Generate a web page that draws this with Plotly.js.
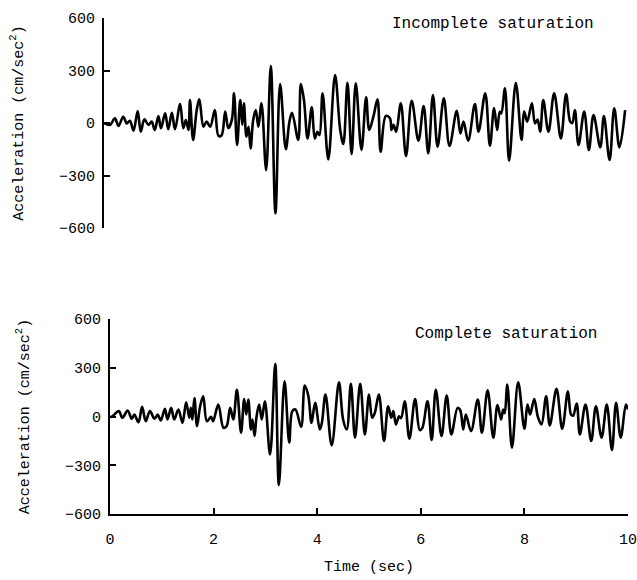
<!DOCTYPE html>
<html>
<head>
<meta charset="utf-8">
<script src="https://cdn.plot.ly/plotly-3.0.1.min.js"></script>
<style>html,body{margin:0;padding:0;background:#fff;}#chart{width:637px;height:580px;}</style>
</head>
<body>
<div id="chart"></div>
<script>
// Incomplete saturation (top panel): time (sec), acceleration (cm/sec^2)
var timeIncomplete = [0.00,0.04,0.12,0.21,0.28,0.37,0.44,0.50,0.57,0.65,0.71,0.78,0.86,0.92,0.98,1.05,1.10,1.18,1.24,1.31,1.37,1.47,1.53,1.58,1.63,1.66,1.72,1.79,1.84,1.92,1.98,2.05,2.14,2.21,2.27,2.34,2.40,2.47,2.51,2.57,2.63,2.67,2.70,2.75,2.79,2.83,2.88,2.93,2.98,3.04,3.13,3.22,3.31,3.40,3.51,3.58,3.63,3.75,3.80,3.86,3.93,4.01,4.07,4.12,4.16,4.22,4.33,4.46,4.56,4.62,4.70,4.78,4.86,4.97,5.06,5.12,5.20,5.28,5.34,5.44,5.52,5.55,5.59,5.64,5.73,5.83,5.94,6.07,6.17,6.26,6.35,6.44,6.56,6.67,6.81,6.88,6.94,7.03,7.16,7.23,7.36,7.45,7.53,7.59,7.64,7.67,7.74,7.82,7.95,8.06,8.11,8.17,8.26,8.32,8.37,8.42,8.48,8.58,8.69,8.82,8.92,9.00,9.04,9.09,9.16,9.27,9.36,9.45,9.58,9.65,9.76,9.85,9.95,10.06];
var accIncomplete = [0,-6,-10,27,-17,36,-2,13,-44,69,-50,21,-11,8,-40,40,-30,55,-36,59,-36,109,-30,17,-40,131,-97,74,135,-21,8,-21,74,-74,-70,65,-30,21,170,-126,131,-11,112,-78,-21,-145,17,74,-21,112,-269,326,-516,223,-150,8,59,-97,223,131,-88,90,-88,-50,-69,170,-208,274,-40,-120,230,-177,227,-154,147,-40,36,135,-164,40,27,-40,-10,-50,112,-189,127,-101,97,-173,160,-135,141,-131,70,-60,8,-101,109,-50,170,-130,85,-40,65,55,198,-215,230,-97,65,8,112,-2,20,-50,131,-50,170,-88,166,8,0,74,-126,65,-154,46,-139,40,-211,84,-139,74];

// Complete saturation (bottom panel)
var timeComplete = [0.00,0.03,0.17,0.24,0.34,0.42,0.47,0.55,0.62,0.69,0.77,0.86,0.92,0.98,1.06,1.11,1.18,1.24,1.32,1.40,1.47,1.53,1.56,1.59,1.63,1.68,1.74,1.80,1.87,1.95,1.99,2.09,2.19,2.25,2.32,2.38,2.45,2.53,2.59,2.63,2.67,2.72,2.75,2.79,2.83,2.88,2.93,2.99,3.09,3.19,3.26,3.37,3.46,3.52,3.58,3.69,3.76,3.83,3.89,3.96,4.05,4.09,4.16,4.28,4.42,4.50,4.57,4.65,4.73,4.83,4.92,5.00,5.06,5.11,5.19,5.29,5.37,5.43,5.47,5.52,5.58,5.62,5.69,5.78,5.89,5.98,6.03,6.13,6.21,6.29,6.40,6.50,6.59,6.71,6.76,6.82,6.87,6.97,7.10,7.18,7.29,7.40,7.48,7.55,7.59,7.62,7.67,7.76,7.88,8.00,8.06,8.11,8.19,8.26,8.33,8.42,8.49,8.62,8.73,8.84,8.90,8.94,9.01,9.07,9.18,9.29,9.38,9.49,9.59,9.69,9.77,9.86,9.96,10.00];
var accComplete = [0,-2,33,-8,37,-14,12,-35,59,-29,33,-14,12,-24,47,-18,53,-18,43,-39,88,-8,53,-18,114,-59,63,124,-29,-2,-29,73,-69,-60,53,-18,165,-100,108,12,104,-80,-18,-120,2,73,-18,94,-233,324,-422,216,-161,33,43,-63,190,124,-39,84,-80,-40,135,-178,210,-18,-80,202,-130,202,-110,135,-8,20,135,-151,63,-8,33,-49,2,-10,94,-137,108,-84,-70,94,-145,165,-120,129,-110,53,40,-80,12,-90,104,-100,161,-130,70,-18,43,20,196,-192,210,-75,73,12,108,-2,-49,124,-55,170,-75,155,12,5,80,-110,73,-151,63,-130,73,-206,84,-130,73,43];

var xTickVals = [0, 2, 4, 6, 8, 10];
var xTickText = ['0', '2', '4', '6', '8', '10'];
var yTickVals = [-600, -300, 0, 300, 600];
var yTickText = ['\u2212600', '\u2212300', '0', '300', '600'];

var FONT = 'Liberation Mono, DejaVu Sans Mono, monospace';

var traces = [
  {x: timeComplete, y: accComplete, xaxis: 'x', yaxis: 'y', type: 'scatter', mode: 'lines',
   line: {color: '#000', width: 2.6, shape: 'spline', smoothing: 1}, hoverinfo: 'skip'},
  {x: timeIncomplete, y: accIncomplete, xaxis: 'x2', yaxis: 'y2', type: 'scatter', mode: 'lines',
   line: {color: '#000', width: 2.6, shape: 'spline', smoothing: 1}, hoverinfo: 'skip'}
];

var yCommon = {
  range: [-600, 600], tickvals: yTickVals, ticktext: yTickText,
  showline: true, linecolor: '#000', linewidth: 2,
  ticks: 'inside', ticklen: 6, tickwidth: 2, tickcolor: '#000',
  ticklabelstandoff: 4,
  showgrid: false, zeroline: false, fixedrange: true,
  tickfont: {family: FONT, size: 15, color: '#000'},
  title: {text: 'Acceleration (cm/sec<sup>2</sup>)', font: {family: FONT, size: 15, color: '#000'}, standoff: 32}
};

var layout = {
  width: 637, height: 580,
  margin: {l: 0, r: 0, t: 0, b: 0},
  paper_bgcolor: '#fff', plot_bgcolor: 'rgba(0,0,0,0)',
  showlegend: false,
  font: {family: FONT, color: '#000'},
  xaxis: {
    domain: [110/637, 628/637], range: [-0.0001, 10.0001], anchor: 'y',
    tickvals: xTickVals, ticktext: xTickText,
    showline: true, linecolor: '#000', linewidth: 2,
    ticks: 'inside', ticklen: 6, tickwidth: 2, tickcolor: '#000',
    ticklabelstandoff: 10,
    showgrid: false, zeroline: false, fixedrange: true,
    tickfont: {family: FONT, size: 15, color: '#000'},
    title: {text: 'Time (sec)', font: {family: FONT, size: 15, color: '#000'}, standoff: 12}
  },
  yaxis: Object.assign({}, yCommon, {domain: [66/580, 261/580], anchor: 'x'}),
  xaxis2: {
    domain: [104/637, 627.2/637], range: [0, 10.1], anchor: 'y2', visible: false, fixedrange: true
  },
  yaxis2: Object.assign({}, yCommon, {domain: [352/580, 562/580], anchor: 'x2'}),
  annotations: [
    {text: 'Incomplete saturation', xref: 'paper', yref: 'paper', x: 390/637, y: (580-24)/580,
     xanchor: 'left', yanchor: 'middle', showarrow: false, font: {family: FONT, size: 16, color: '#000'}},
    {text: 'Complete saturation', xref: 'paper', yref: 'paper', x: 413/637, y: (580-334)/580,
     xanchor: 'left', yanchor: 'middle', showarrow: false, font: {family: FONT, size: 16, color: '#000'}}
  ]
};

Plotly.newPlot('chart', traces, layout, {staticPlot: true, displayModeBar: false});
</script>
</body>
</html>
